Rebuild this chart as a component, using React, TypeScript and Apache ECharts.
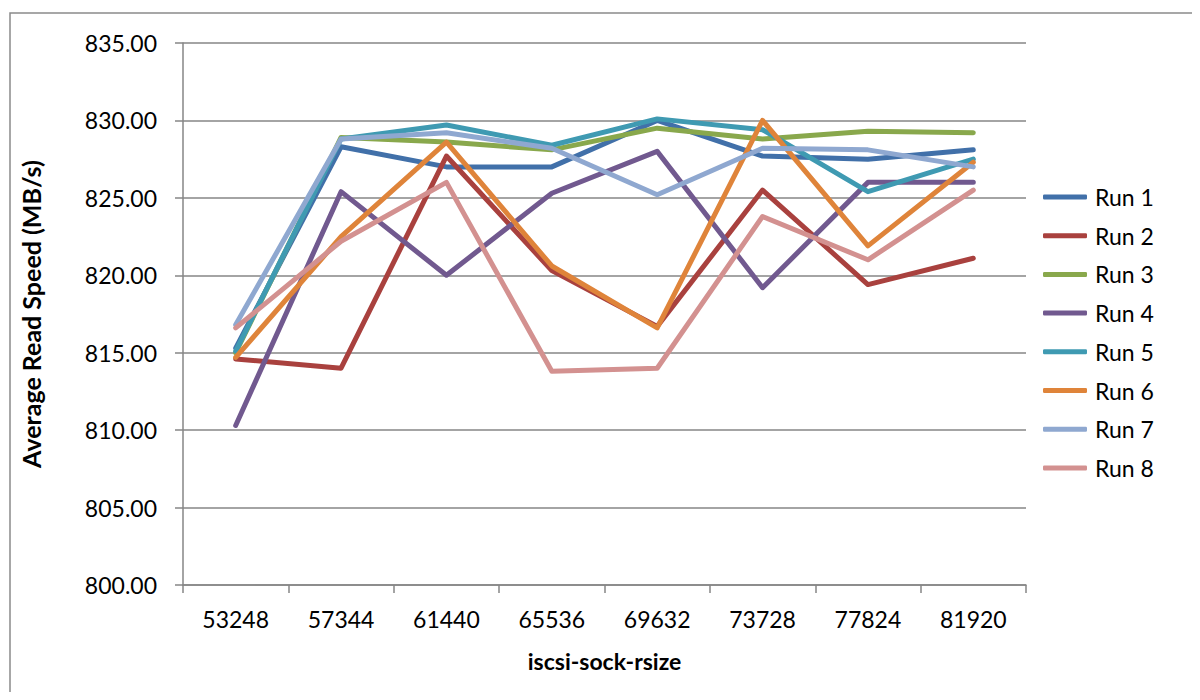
import React, { useEffect, useRef } from "react";
import * as echarts from "echarts";

const categories = ["53248", "57344", "61440", "65536", "69632", "73728", "77824", "81920"];
const run1 = [815.3, 828.3, 827.0, 827.0, 830.0, 827.7, 827.5, 828.1];
const run2 = [814.6, 814.0, 827.7, 820.3, 816.7, 825.5, 819.4, 821.1];
const run3 = [815.0, 828.9, 828.6, 828.1, 829.5, 828.8, 829.3, 829.2];
const run4 = [810.3, 825.4, 820.0, 825.3, 828.0, 819.2, 826.0, 826.0];
const run5 = [815.1, 828.8, 829.7, 828.4, 830.1, 829.4, 825.4, 827.5];
const run6 = [814.7, 822.5, 828.6, 820.6, 816.6, 830.0, 821.9, 827.3];
const run7 = [816.8, 828.8, 829.2, 828.2, 825.2, 828.2, 828.1, 827.0];
const run8 = [816.6, 822.2, 826.0, 813.8, 814.0, 823.8, 821.0, 825.5];

const seriesNames = ["Run 1", "Run 2", "Run 3", "Run 4", "Run 5", "Run 6", "Run 7", "Run 8"];
const seriesValues = [run1, run2, run3, run4, run5, run6, run7, run8];
const colors = ["#4170A9", "#A9413E", "#89A84C", "#71598F", "#3F9AB2", "#DF843A", "#8FA8D0", "#D39190"];

const FONT = "Lato";

export default function App() {
  const ref = useRef<HTMLDivElement>(null);
  useEffect(() => {
    if (!ref.current) return;
    const chart = echarts.init(ref.current, undefined, { renderer: "svg" });
    chart.setOption({
      animation: false,
      backgroundColor: "#ffffff",
      color: colors,
      textStyle: { fontFamily: FONT, color: "#000" },
      graphic: [
        {
          type: "rect",
          shape: { x: 10, y: 13, width: 1400, height: 900 },
          style: { fill: "none", stroke: "#8a8a8a", lineWidth: 1.5 },
          silent: true,
        },
      ],
      grid: { left: 183, right: 174, top: 43, bottom: 115, containLabel: false },
      legend: {
        orient: "vertical",
        left: 1038,
        top: 177,
        icon: "roundRect",
        itemWidth: 44,
        itemHeight: 5,
        itemGap: 8.7,
        textStyle: { fontFamily: FONT, fontSize: 23, color: "#000", lineHeight: 30, padding: [0, 0, 0, 3] },
        data: seriesNames,
      },
      xAxis: {
        type: "category",
        data: categories,
        boundaryGap: true,
        name: "iscsi-sock-rsize",
        nameLocation: "middle",
        nameGap: 64,
        nameTextStyle: { fontFamily: FONT, fontSize: 23, fontWeight: "bold", color: "#000" },
        axisLine: { lineStyle: { color: "#868686", width: 1.5 } },
        axisTick: { show: true, alignWithLabel: false, length: 8, lineStyle: { color: "#868686", width: 1.5 } },
        axisLabel: { fontFamily: FONT, fontSize: 23, color: "#000", margin: 22 },
        splitLine: { show: false },
      },
      yAxis: {
        type: "value",
        min: 800,
        max: 835,
        interval: 5,
        name: "Average Read Speed (MB/s)",
        nameLocation: "middle",
        nameRotate: 90,
        nameGap: 140,
        nameTextStyle: { fontFamily: FONT, fontSize: 25, fontWeight: "bold", color: "#000" },
        axisLine: { show: true, lineStyle: { color: "#868686", width: 1.5 } },
        axisTick: { show: true, length: 8, lineStyle: { color: "#868686", width: 1.5 } },
        axisLabel: {
          fontFamily: FONT,
          fontSize: 23,
          color: "#000",
          margin: 26,
          formatter: (v: number) => v.toFixed(2),
        },
        splitLine: { show: true, lineStyle: { color: "#868686", width: 1.5 } },
      },
      series: seriesNames.map((name, i) => ({
        name,
        type: "line",
        data: seriesValues[i],
        symbol: "none",
        showSymbol: false,
        lineStyle: { width: 5, color: colors[i], cap: "round", join: "round" },
        itemStyle: { color: colors[i] },
      })),
    });
    return () => chart.dispose();
  }, []);
  return <div ref={ref} style={{ width: 1200, height: 700, margin: -8 }} />;
}
